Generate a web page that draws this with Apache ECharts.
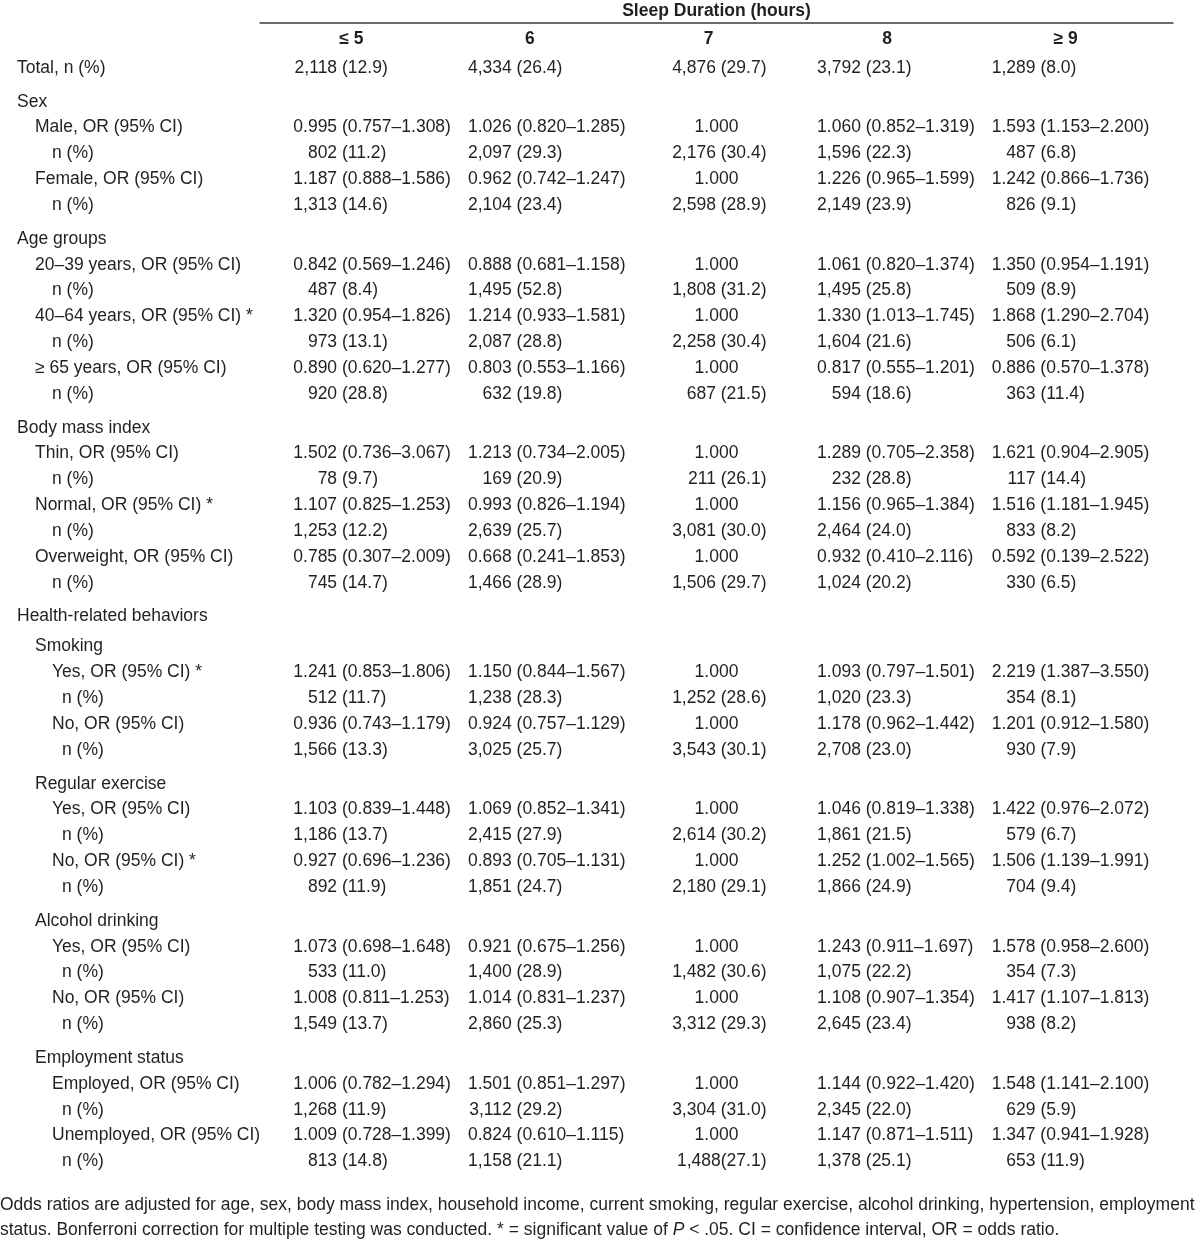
<!DOCTYPE html>
<html>
<head>
<meta charset="utf-8">
<script src="https://cdn.jsdelivr.net/npm/echarts@6.0.0/dist/echarts.min.js"></script>
<style>html,body{margin:0;padding:0;background:#fff}#c{width:1200px;height:1244px}</style>
</head>
<body>
<div id="c"></div>
<script>
// ---------------- data ----------------
const spanTitle = 'Sleep Duration (hours)';
const columns = ['≤ 5', '6', '7', '8', '≥ 9'];

const rowLabels = [
  'Total, n (%)', 'Sex', 'Male, OR (95% CI)', 'n (%)', 'Female, OR (95% CI)', 'n (%)',
  'Age groups', '20–39 years, OR (95% CI)', 'n (%)', '40–64 years, OR (95% CI) *', 'n (%)', '≥ 65 years, OR (95% CI)', 'n (%)',
  'Body mass index', 'Thin, OR (95% CI)', 'n (%)', 'Normal, OR (95% CI) *', 'n (%)', 'Overweight, OR (95% CI)', 'n (%)',
  'Health-related behaviors', 'Smoking', 'Yes, OR (95% CI) *', 'n (%)', 'No, OR (95% CI)', 'n (%)',
  'Regular exercise', 'Yes, OR (95% CI)', 'n (%)', 'No, OR (95% CI) *', 'n (%)',
  'Alcohol drinking', 'Yes, OR (95% CI)', 'n (%)', 'No, OR (95% CI)', 'n (%)',
  'Employment status', 'Employed, OR (95% CI)', 'n (%)', 'Unemployed, OR (95% CI)', 'n (%)'
];
const rowIndent = [
  0, 0, 1, 2, 1, 2,
  0, 1, 2, 1, 2, 1, 2,
  0, 1, 2, 1, 2, 1, 2,
  0, 1, 2, 3, 2, 3,
  1, 2, 3, 2, 3,
  1, 2, 3, 2, 3,
  1, 2, 3, 2, 3
];

const col_le5 = [
  '2,118 (12.9)', null, '0.995 (0.757–1.308)', '802 (11.2)', '1.187 (0.888–1.586)', '1,313 (14.6)',
  null, '0.842 (0.569–1.246)', '487 (8.4)', '1.320 (0.954–1.826)', '973 (13.1)', '0.890 (0.620–1.277)', '920 (28.8)',
  null, '1.502 (0.736–3.067)', '78 (9.7)', '1.107 (0.825–1.253)', '1,253 (12.2)', '0.785 (0.307–2.009)', '745 (14.7)',
  null, null, '1.241 (0.853–1.806)', '512 (11.7)', '0.936 (0.743–1.179)', '1,566 (13.3)',
  null, '1.103 (0.839–1.448)', '1,186 (13.7)', '0.927 (0.696–1.236)', '892 (11.9)',
  null, '1.073 (0.698–1.648)', '533 (11.0)', '1.008 (0.811–1.253)', '1,549 (13.7)',
  null, '1.006 (0.782–1.294)', '1,268 (11.9)', '1.009 (0.728–1.399)', '813 (14.8)'
];
const col_6 = [
  '4,334 (26.4)', null, '1.026 (0.820–1.285)', '2,097 (29.3)', '0.962 (0.742–1.247)', '2,104 (23.4)',
  null, '0.888 (0.681–1.158)', '1,495 (52.8)', '1.214 (0.933–1.581)', '2,087 (28.8)', '0.803 (0.553–1.166)', '632 (19.8)',
  null, '1.213 (0.734–2.005)', '169 (20.9)', '0.993 (0.826–1.194)', '2,639 (25.7)', '0.668 (0.241–1.853)', '1,466 (28.9)',
  null, null, '1.150 (0.844–1.567)', '1,238 (28.3)', '0.924 (0.757–1.129)', '3,025 (25.7)',
  null, '1.069 (0.852–1.341)', '2,415 (27.9)', '0.893 (0.705–1.131)', '1,851 (24.7)',
  null, '0.921 (0.675–1.256)', '1,400 (28.9)', '1.014 (0.831–1.237)', '2,860 (25.3)',
  null, '1.501 (0.851–1.297)', '3,112 (29.2)', '0.824 (0.610–1.115)', '1,158 (21.1)'
];
const col_7 = [
  '4,876 (29.7)', null, '1.000', '2,176 (30.4)', '1.000', '2,598 (28.9)',
  null, '1.000', '1,808 (31.2)', '1.000', '2,258 (30.4)', '1.000', '687 (21.5)',
  null, '1.000', '211 (26.1)', '1.000', '3,081 (30.0)', '1.000', '1,506 (29.7)',
  null, null, '1.000', '1,252 (28.6)', '1.000', '3,543 (30.1)',
  null, '1.000', '2,614 (30.2)', '1.000', '2,180 (29.1)',
  null, '1.000', '1,482 (30.6)', '1.000', '3,312 (29.3)',
  null, '1.000', '3,304 (31.0)', '1.000', '1,488(27.1)'
];
const col_8 = [
  '3,792 (23.1)', null, '1.060 (0.852–1.319)', '1,596 (22.3)', '1.226 (0.965–1.599)', '2,149 (23.9)',
  null, '1.061 (0.820–1.374)', '1,495 (25.8)', '1.330 (1.013–1.745)', '1,604 (21.6)', '0.817 (0.555–1.201)', '594 (18.6)',
  null, '1.289 (0.705–2.358)', '232 (28.8)', '1.156 (0.965–1.384)', '2,464 (24.0)', '0.932 (0.410–2.116)', '1,024 (20.2)',
  null, null, '1.093 (0.797–1.501)', '1,020 (23.3)', '1.178 (0.962–1.442)', '2,708 (23.0)',
  null, '1.046 (0.819–1.338)', '1,861 (21.5)', '1.252 (1.002–1.565)', '1,866 (24.9)',
  null, '1.243 (0.911–1.697)', '1,075 (22.2)', '1.108 (0.907–1.354)', '2,645 (23.4)',
  null, '1.144 (0.922–1.420)', '2,345 (22.0)', '1.147 (0.871–1.511)', '1,378 (25.1)'
];
const col_ge9 = [
  '1,289 (8.0)', null, '1.593 (1.153–2.200)', '487 (6.8)', '1.242 (0.866–1.736)', '826 (9.1)',
  null, '1.350 (0.954–1.191)', '509 (8.9)', '1.868 (1.290–2.704)', '506 (6.1)', '0.886 (0.570–1.378)', '363 (11.4)',
  null, '1.621 (0.904–2.905)', '117 (14.4)', '1.516 (1.181–1.945)', '833 (8.2)', '0.592 (0.139–2.522)', '330 (6.5)',
  null, null, '2.219 (1.387–3.550)', '354 (8.1)', '1.201 (0.912–1.580)', '930 (7.9)',
  null, '1.422 (0.976–2.072)', '579 (6.7)', '1.506 (1.139–1.991)', '704 (9.4)',
  null, '1.578 (0.958–2.600)', '354 (7.3)', '1.417 (1.107–1.813)', '938 (8.2)',
  null, '1.548 (1.141–2.100)', '629 (5.9)', '1.347 (0.941–1.928)', '653 (11.9)'
];

const footnote = 'Odds ratios are adjusted for age, sex, body mass index, household income, current smoking, regular exercise, alcohol drinking, hypertension, employment\n' +
  'status. Bonferroni correction for multiple testing was conducted. * = significant value of {i|P} < .05. CI = confidence interval, OR = odds ratio.';

// ---------------- layout / style ----------------
const FONT = '"Liberation Sans", Arial, Helvetica, sans-serif';
const FS = 17.5;
const INK = '#231f20';
const PITCH = 25.83, FIRST_Y = 68, GAP_BIG = 0.31, GAP_SMALL = 0.16;
const INDENT_PX = [17, 35, 52, 62];
const COL_MODE = ['num', 'num', 'right', 'num', 'num'];
const OR_LEFT = -81, NUM_W = 43.8, SPACE_W = 4.9, RIGHT_EDGE = 43, CENTER_SHIFT = -7;

const table = [col_le5, col_6, col_7, col_8, col_ge9];
const isHeading = r => table.every(col => col[r] == null);
const isCountRow = r => rowLabels[r].indexOf('n (%)') >= 0;

const rowPos = [];
rowLabels.forEach((_, r) => {
  if (r === 0) { rowPos.push(0); return; }
  let p = rowPos[r - 1] + 1;
  if (isHeading(r)) p += isHeading(r - 1) ? GAP_SMALL : GAP_BIG;
  rowPos.push(p);
});
const lastPos = rowPos[rowPos.length - 1];
const gridTop = FIRST_Y - 0.5 * PITCH;
const gridHeight = (lastPos + 1) * PITCH;

function txt(x, y, text, align, extra) {
  return {
    type: 'text', x: x, y: y,
    style: Object.assign({ text: text, fill: INK, fontSize: FS, fontFamily: FONT, align: align, verticalAlign: 'middle' }, extra || {})
  };
}

function renderCell(params, api) {
  const c = api.value(0), r = api.value(2);
  const pt = api.coord([c, api.value(1)]);
  const cx = pt[0], cy = pt[1];
  const text = table[c][r];
  const isN = isCountRow(r);
  if (COL_MODE[c] === 'right') {
    return isN ? txt(cx + RIGHT_EDGE, cy, text, 'right') : txt(cx + CENTER_SHIFT, cy, text, 'center');
  }
  const L = cx + OR_LEFT;
  if (!isN) return txt(L, cy, text, 'left');
  const m = text.match(/^(\S+?)\s?(\(.*\))$/);
  return {
    type: 'group',
    children: [txt(L + NUM_W, cy, m[1], 'right'), txt(L + NUM_W + SPACE_W, cy, m[2], 'left')]
  };
}

function renderRowLabel(params, api) {
  const r = api.value(2);
  const pt = api.coord([api.value(0), api.value(1)]);
  return txt(pt[0] + INDENT_PX[rowIndent[r]], pt[1], rowLabels[r], 'left');
}

const cellData = [];
table.forEach((col, c) => col.forEach((v, r) => { if (v != null) cellData.push([c, rowPos[r], r]); }));
const labelData = rowLabels.map((_, r) => [0, rowPos[r], r]);

const hiddenY = (gi) => ({ type: 'value', gridIndex: gi, inverse: true, min: -0.5, max: lastPos + 0.5, show: false });

const chart = echarts.init(document.getElementById('c'), null, { renderer: 'canvas' });
chart.setOption({
  animation: false,
  backgroundColor: '#ffffff',
  title: {
    left: 0, top: 1193, padding: 0,
    text: footnote,
    textStyle: {
      fontSize: FS, fontWeight: 'normal', color: INK, fontFamily: FONT, lineHeight: 25,
      rich: { i: { fontStyle: 'italic', fontSize: FS, color: INK, fontFamily: FONT, lineHeight: 25 } }
    }
  },
  grid: [
    { left: 287, right: 40, top: gridTop, height: gridHeight },
    { left: 0, width: 260, top: gridTop, height: gridHeight },
    { left: 260, right: 27, top: 22, height: 1 },
    { left: 262, right: 45, top: 38, height: 1 }
  ],
  xAxis: [
    { type: 'category', gridIndex: 0, data: columns, show: false },
    { type: 'value', gridIndex: 1, min: 0, max: 1, show: false },
    {
      type: 'category', gridIndex: 2, data: columns, position: 'top',
      axisLine: { show: true, lineStyle: { color: '#3c3c3c', width: 1.5 } },
      axisTick: { show: false }, axisLabel: { show: false }, splitLine: { show: false },
      name: spanTitle, nameLocation: 'middle', nameGap: 11,
      nameTextStyle: { fontWeight: 'bold', fontSize: FS, fontFamily: FONT, color: INK, verticalAlign: 'middle' }
    },
    {
      type: 'category', gridIndex: 3, data: columns, position: 'top',
      axisLine: { show: false }, axisTick: { show: false }, splitLine: { show: false },
      axisLabel: { margin: -1, verticalAlign: 'middle', fontWeight: 'bold', fontSize: FS, fontFamily: FONT, color: INK }
    }
  ],
  yAxis: [hiddenY(0), hiddenY(1),
    { type: 'value', gridIndex: 2, show: false },
    { type: 'value', gridIndex: 3, show: false }],
  series: [
    {
      type: 'custom', name: 'cells', coordinateSystem: 'cartesian2d', xAxisIndex: 0, yAxisIndex: 0,
      encode: { x: 0, y: 1 }, renderItem: renderCell, data: cellData, silent: true
    },
    {
      type: 'custom', name: 'rowLabels', coordinateSystem: 'cartesian2d', xAxisIndex: 1, yAxisIndex: 1,
      encode: { x: 0, y: 1 }, renderItem: renderRowLabel, data: labelData, silent: true
    }
  ]
});
</script>
</body>
</html>
